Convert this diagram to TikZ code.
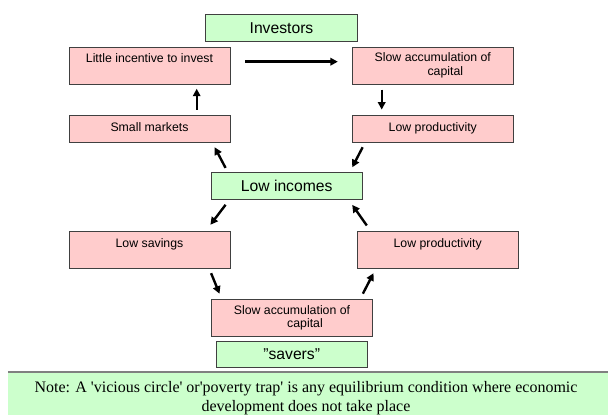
\documentclass[tikz,border=0pt]{standalone}
\usepackage{fontspec}
\setmainfont{Liberation Sans}
\newfontfamily\notefont{Liberation Serif}
\usetikzlibrary{arrows.meta,calc}
\definecolor{pinkfill}{RGB}{255,204,204}
\definecolor{greenfill}{RGB}{204,255,204}

\begin{document}
\begin{tikzpicture}[
		x=1pt, y=-1pt,
		every node/.style={inner sep=0pt},
		cause/.style={draw=black!75, line width=0.9pt, fill=pinkfill, minimum width=161pt, font=\fontsize{12.3}{13.5}\selectfont},
		oneline/.style={text height=16pt, text depth=21pt},
		short/.style={text height=16pt, text depth=11.3pt},
		twoline/.style={align=center, minimum height=37pt},
		group/.style={draw=black!75, line width=0.9pt, fill=greenfill, minimum width=151.5pt, minimum height=27pt, font=\fontsize{15.7}{18}\selectfont},
		flow/.style={-{Triangle[length=7.5pt,width=7.5pt]}, line width=2.4pt}
		]
		\useasboundingbox (0,0) rectangle (608,417);
		\node[group] (investors) at (281.5,28.2) {Investors};
		\node[cause, oneline] (incentive) at (149.5,65.5) {Little incentive to invest};
		\node[cause, twoline] (slowtop) at (432.8,65.5) {Slow accumulation of\\\hspace*{25pt}capital};
		\node[cause, short] (markets) at (149.5,128.7) {Small markets};
		\node[cause, short] (prodtop) at (432.8,128.7) {Low productivity};
		\node[group] (incomes) at (286.7,186.3) {Low incomes};
		\node[cause, oneline] (savings) at (149.5,249.5) {Low savings};
		\node[cause, oneline] (prodbot) at (437.7,249.5) {Low productivity};
		\node[cause, twoline] (slowbot) at (292,317.7) {Slow accumulation of\\\hspace*{26pt}capital};
		\node[group, minimum height=25.7pt] (savers) at (291.7,354.2) {"savers"};

		\node[fill=greenfill, minimum width=600pt, minimum height=43pt] (band) at (308,393.5) {};
		\draw[black!50, line width=1.5pt] (band.north west) -- (band.north east);
		\node[align=center, font=\notefont\fontsize{16}{19}\selectfont] (note) at (306,398.5)
			{Note: A \textquotesingle vicious circle\textquotesingle\ or\textquotesingle poverty trap\textquotesingle\ is any equilibrium condition where economic\\development does not take place};

		\draw[flow, shorten <=15pt, shorten >=14pt] ($(incentive.east)+(0,-3.8)$) -- ($(slowtop.west)+(0,-3.8)$);
		\draw[flow, shorten <=5.3pt, shorten >=5pt] ($(slowtop.south)+(-51.1,0)$) -- ($(prodtop.north)+(-51.1,0)$);
		\draw[flow, shorten <=5pt, shorten >=5.7pt] ($(prodtop.south west)+(13.1,0)$) -- ($(incomes.north east)+(-13.3,0)$);
		\draw[flow, shorten <=6.2pt, shorten >=5.6pt] ($(prodbot.north west)+(13.6,0)$) -- ($(incomes.south east)+(-13.9,0)$);
		\draw[flow, shorten <=5.7pt, shorten >=5.3pt] ($(slowbot.north east)+(-12.7,0)$) -- ($(prodbot.south west)+(19.2,0)$);
		\draw[flow, shorten <=5.1pt, shorten >=5.4pt] ($(savings.south east)+(-21.3,0)$) -- ($(slowbot.north west)+(10.5,0)$);
		\draw[flow, shorten <=5.7pt, shorten >=7.2pt] ($(incomes.south west)+(18.5,0)$) -- ($(savings.north east)+(-24.4,0)$);
		\draw[flow, shorten <=5pt, shorten >=5pt] ($(incomes.north west)+(17.4,0)$) -- ($(markets.south east)+(-18.1,0)$);
		\draw[flow, shorten <=5pt, shorten >=4.3pt] ($(markets.north)+(47.2,0)$) -- ($(incentive.south)+(47.2,0)$);
	\end{tikzpicture}
\end{document}
